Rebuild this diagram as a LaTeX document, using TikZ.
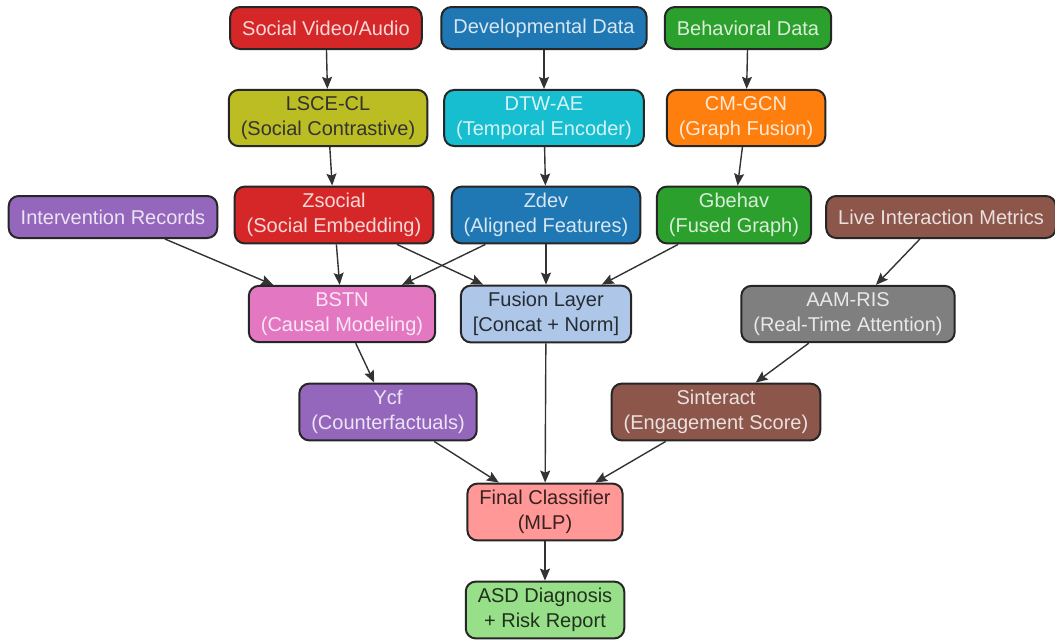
\documentclass[tikz,border=0pt]{standalone}
\usepackage{fontspec}
\setmainfont{Liberation Sans}
\usepackage{tikz}
\usetikzlibrary{arrows.meta,positioning,backgrounds,calc}
\definecolor{tabred}{HTML}{D62728}
\definecolor{tabblue}{HTML}{1F77B4}
\definecolor{tabgreen}{HTML}{2CA02C}
\definecolor{tabolive}{HTML}{BCBD22}
\definecolor{tabcyan}{HTML}{17BECF}
\definecolor{taborange}{HTML}{FF7F0E}
\definecolor{tabpurple}{HTML}{9467BD}
\definecolor{tabbrown}{HTML}{8C564B}
\definecolor{tabpink}{HTML}{E377C2}
\definecolor{tabgray}{HTML}{7F7F7F}
\definecolor{paleblue}{HTML}{AEC7E8}
\definecolor{palered}{HTML}{FF9896}
\definecolor{palegreen}{HTML}{98DF8A}
\tikzset{
  box/.style={draw=black!85, line width=1pt, rounded corners=5pt, inner xsep=6pt, inner ysep=3.3pt,
    minimum height=21pt, align=center, font=\fontsize{10}{12.5}\selectfont},
  darkbox/.style={box, fill=#1, text=#1!18!white},
  lightbox/.style={box, fill=#1, text=#1!22!black}
}

\begin{document}
\begin{tikzpicture}[->,>={Stealth[length=6pt,width=5pt,inset=1pt]},x=0.5pt,y=-0.5pt,
 every edge/.append style={draw=black!80, line width=0.7pt}]
 \useasboundingbox (0,0) rectangle (1055,639);
 % inputs
 \node[darkbox=tabred] (vid) at (326, 28) {Social Video/Audio};
 \node[darkbox=tabblue] (devd) at (544, 28) {Developmental Data};
 \node[darkbox=tabgreen] (behd) at (748, 28) {Behavioral Data};
 % encoders
 \node[box, fill=tabolive, text=black!80] (lsce) at (328, 118) {LSCE-CL\\(Social Contrastive)};
 \node[darkbox=tabcyan] (dtw) at (544, 118) {DTW-AE\\(Temporal Encoder)};
 \node[darkbox=taborange] (cmg) at (746, 118) {CM-GCN\\(Graph Fusion)};
 % embeddings
 \node[darkbox=tabpurple] (inter) at (113, 217) {Intervention Records};
 \node[darkbox=tabred] (zsoc) at (334, 215) {Zsocial\\(Social Embedding)};
 \node[darkbox=tabblue] (zdev) at (546, 215) {Zdev\\(Aligned Features)};
 \node[darkbox=tabgreen] (gbeh) at (734, 215) {Gbehav\\(Fused Graph)};
 \node[darkbox=tabbrown] (live) at (941, 217) {Live Interaction Metrics};
 % middle
 \node[darkbox=tabpink] (bstn) at (342, 314) {BSTN\\(Causal Modeling)};
 \node[lightbox=paleblue] (fuse) at (546, 314) {Fusion Layer\\{[}Concat + Norm{]}};
 \node[darkbox=tabgray] (aam) at (848, 314) {AAM-RIS\\(Real-Time Attention)};
 \node[darkbox=tabpurple] (ycf) at (388, 412) {Ycf\\(Counterfactuals)};
 \node[darkbox=tabbrown] (sint) at (716, 412) {Sinteract\\(Engagement Score)};
 % output
 \node[lightbox=palered] (clf) at (545, 512) {Final Classifier\\(MLP)};
 \node[lightbox=palegreen] (asd) at (545, 610) {ASD Diagnosis\\+ Risk Report};

 \path (vid) edge (lsce);
 \path (devd) edge (dtw);
 \path (behd) edge (cmg);
 \path (lsce) edge (zsoc);
 \path (dtw) edge (zdev);
 \path (cmg) edge (gbeh);
 \path (inter) edge (bstn);
 \path (zsoc) edge (bstn);
 \path (zdev) edge (bstn);
 \path (zsoc) edge (fuse);
 \path (zdev) edge (fuse);
 \path (gbeh) edge (fuse);
 \path (live) edge (aam);
 \path (bstn) edge (ycf);
 \path (aam) edge (sint);
 \path (ycf) edge (clf);
 \path (fuse) edge (clf);
 \path (sint) edge (clf);
 \path (clf) edge (asd);
\end{tikzpicture}
\end{document}
